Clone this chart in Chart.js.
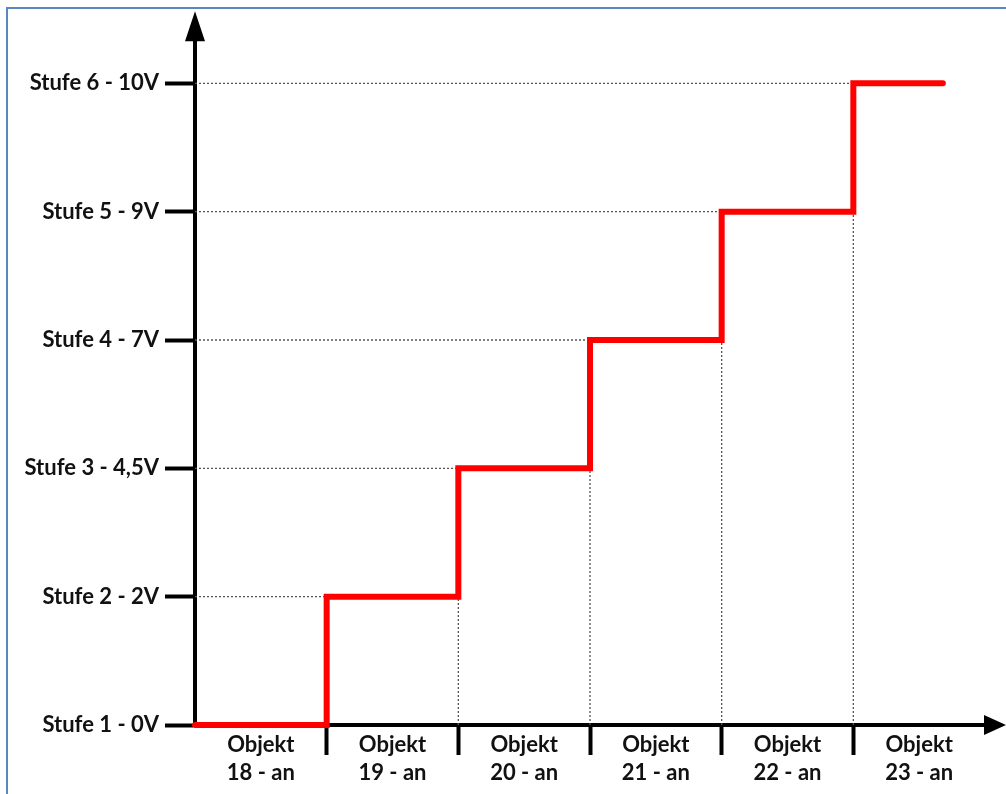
<!DOCTYPE html>
<html>
<head>
<meta charset="utf-8">
<script src="https://cdn.jsdelivr.net/npm/chart.js@4.4.1/dist/chart.umd.min.js"></script>
<style>
  html, body { margin: 0; padding: 0; background: #fff; }
  #wrap { position: relative; width: 1006px; height: 794px; }
</style>
</head>
<body>
<div id="wrap"><canvas id="c"></canvas></div>
<script>
// ---- data ----
const objectLabels = [
  ['Objekt', '18 - an'],
  ['Objekt', '19 - an'],
  ['Objekt', '20 - an'],
  ['Objekt', '21 - an'],
  ['Objekt', '22 - an'],
  ['Objekt', '23 - an']
];
const stufeLabels = ['Stufe 1 - 0V', 'Stufe 2 - 2V', 'Stufe 3 - 4,5V', 'Stufe 4 - 7V', 'Stufe 5 - 9V', 'Stufe 6 - 10V'];
const stufeLevels = [1, 2, 3, 4, 5, 6];          // level index of each Stufe
const levelPerObject = [1, 2, 3, 4, 5, 6];       // Stufe reached when object i is "an"
const lineEnd = 5.68;                            // where the red line stops (object units)

// ---- build datasets ----
const stepData = levelPerObject.map((l, i) => ({ x: i, y: l }));
stepData.push({ x: lineEnd, y: levelPerObject[levelPerObject.length - 1] });

const guideData = [];
for (let i = 1; i < levelPerObject.length; i++) {
  guideData.push({ x: 0, y: levelPerObject[i] }, { x: i, y: levelPerObject[i] }, { x: i, y: null });
  if (levelPerObject[i - 1] > stufeLevels[0]) {
    guideData.push({ x: i, y: stufeLevels[0] }, { x: i, y: levelPerObject[i - 1] }, { x: i, y: null });
  }
}

const FONT = { family: 'Lato, "Open Sans", sans-serif', size: 22, weight: 'bold' };

const decorPlugin = {
  id: 'decor',
  beforeDraw(chart) {
    const ctx = chart.ctx;
    ctx.save();
    ctx.strokeStyle = '#5b87c0';
    ctx.lineWidth = 2;
    ctx.beginPath();
    ctx.moveTo(7, chart.height);
    ctx.lineTo(7, 8);
    ctx.lineTo(chart.width, 8);
    ctx.stroke();
    ctx.restore();
  },
  afterDraw(chart) {
    const ctx = chart.ctx;
    const a = chart.chartArea;
    ctx.save();
    ctx.fillStyle = '#000';
    // y arrow head
    ctx.beginPath();
    ctx.moveTo(a.left, a.top - 8);
    ctx.lineTo(a.left - 10, a.top + 22);
    ctx.lineTo(a.left + 10, a.top + 22);
    ctx.closePath();
    ctx.fill();
    // x arrow head
    ctx.beginPath();
    ctx.moveTo(a.right + 21, a.bottom);
    ctx.lineTo(a.right - 1, a.bottom - 10);
    ctx.lineTo(a.right - 1, a.bottom + 10);
    ctx.closePath();
    ctx.fill();
    ctx.restore();
  }
};

new Chart(document.getElementById('c'), {
  type: 'line',
  data: {
    datasets: [
      {
        label: 'Stufe',
        data: stepData,
        stepped: 'before',
        borderColor: '#ff0000',
        borderWidth: 6,
        borderCapStyle: 'round',
        borderJoinStyle: 'miter',
        pointRadius: 0,
        fill: false,
        clip: false,
        order: 0
      },
      {
        label: 'guides',
        data: guideData,
        borderColor: '#555',
        borderWidth: 1.3,
        borderDash: [2, 2],
        pointRadius: 0,
        spanGaps: false,
        fill: false,
        clip: false,
        order: 1
      }
    ]
  },
  options: {
    responsive: true,
    maintainAspectRatio: false,
    animation: false,
    events: [],
    layout: { padding: { left: 0, top: 17, right: 21, bottom: 0 } },
    plugins: { legend: { display: false }, tooltip: { enabled: false }, title: { display: false } },
    scales: {
      x: {
        type: 'linear',
        min: 0,
        max: objectLabels.length,
        afterBuildTicks(scale) {
          const t = [];
          for (let i = 0; i < objectLabels.length; i++) {
            if (i > 0) t.push({ value: i });
            t.push({ value: i + 0.5 });
          }
          scale.ticks = t;
        },
        afterFit(scale) { scale.height = 69; },
        ticks: {
          autoSkip: false,
          maxRotation: 0,
          padding: -24,
          color: '#111',
          font: Object.assign({}, FONT, { lineHeight: 1.27 }),
          callback(v) { return Number.isInteger(v) ? '' : objectLabels[Math.floor(v)]; }
        },
        grid: {
          drawOnChartArea: false,
          drawTicks: true,
          tickLength: 30,
          tickWidth: 4,
          tickColor: (c) => (c.tick && Number.isInteger(c.tick.value)) ? '#000' : 'rgba(0,0,0,0)'
        },
        border: { display: true, color: '#000', width: 4 }
      },
      y: {
        type: 'linear',
        min: stufeLevels[0],
        max: stufeLevels[stufeLevels.length - 1] + 0.5,
        afterBuildTicks(scale) { scale.ticks = stufeLevels.map(v => ({ value: v })); },
        afterFit(scale) { scale.width = 195; },
        ticks: {
          autoSkip: false,
          padding: 6,
          color: '#111',
          font: FONT,
          callback(v) { const k = stufeLevels.indexOf(v); return k >= 0 ? stufeLabels[k] : ''; }
        },
        grid: {
          drawOnChartArea: false,
          drawTicks: true,
          tickLength: 30,
          tickWidth: 4,
          tickColor: '#000'
        },
        border: { display: true, color: '#000', width: 4 }
      }
    }
  },
  plugins: [decorPlugin]
});
</script>
</body>
</html>
